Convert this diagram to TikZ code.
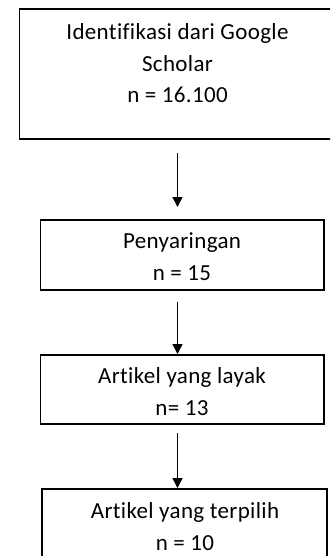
\documentclass[tikz,border=0pt]{standalone}
\usepackage{fontspec}
\setmainfont{Carlito}[LetterSpace=1.5,Ligatures=NoCommon]
\usetikzlibrary{arrows.meta}
\begin{document}
\begin{tikzpicture}[x=1pt,y=-1pt,
  boxnode/.style={draw=black, line width=1.5pt, rectangle, inner sep=0pt},
  txt/.style={anchor=base, align=center, font=\fontsize{23pt}{31.5pt}\selectfont, text=black, inner sep=0pt},
  arr/.style={draw=black, line width=1.5pt, -{Triangle[width=10pt,length=10pt]}}]
\clip (0,0) rectangle (330,556);
\useasboundingbox (0,0) rectangle (330,556);
% boxes
\node[boxnode, minimum width=317pt, minimum height=130pt] (b1) at (178,74) {};
\node[boxnode, minimum width=283.5pt, minimum height=70pt] (b2) at (182.25,255) {};
\node[boxnode, minimum width=283.5pt, minimum height=69pt] (b3) at (182.25,389.5) {};
\node[boxnode, minimum width=285pt, minimum height=75pt] (b4) at (184.5,526.5) {};
% texts (anchored at the baseline of the last line)
\node[txt] (t1) at (177.5,103) {Identifikasi dari Google\\Scholar\\n = 16.100};
\node[txt] (t2) at (182,280) {Penyaringan\\n = 15};
\node[txt] (t3) at (182,415) {Artikel yang\ layak\\n= 13};
\node[txt] (t4) at (185,550) {Artikel yang terpilih\\n = 10};
% arrow endpoints
\coordinate (s1) at (177.5,153);
\coordinate (e1) at (177.5,207);
\coordinate (s2) at (177.5,302);
\coordinate (e2) at (177.5,354);
\coordinate (s3) at (177.5,433);
\coordinate (e3) at (177.5,488);
\draw[arr] (s1) -- (e1);
\draw[arr] (s2) -- (e2);
\draw[arr] (s3) -- (e3);
\end{tikzpicture}
\end{document}
